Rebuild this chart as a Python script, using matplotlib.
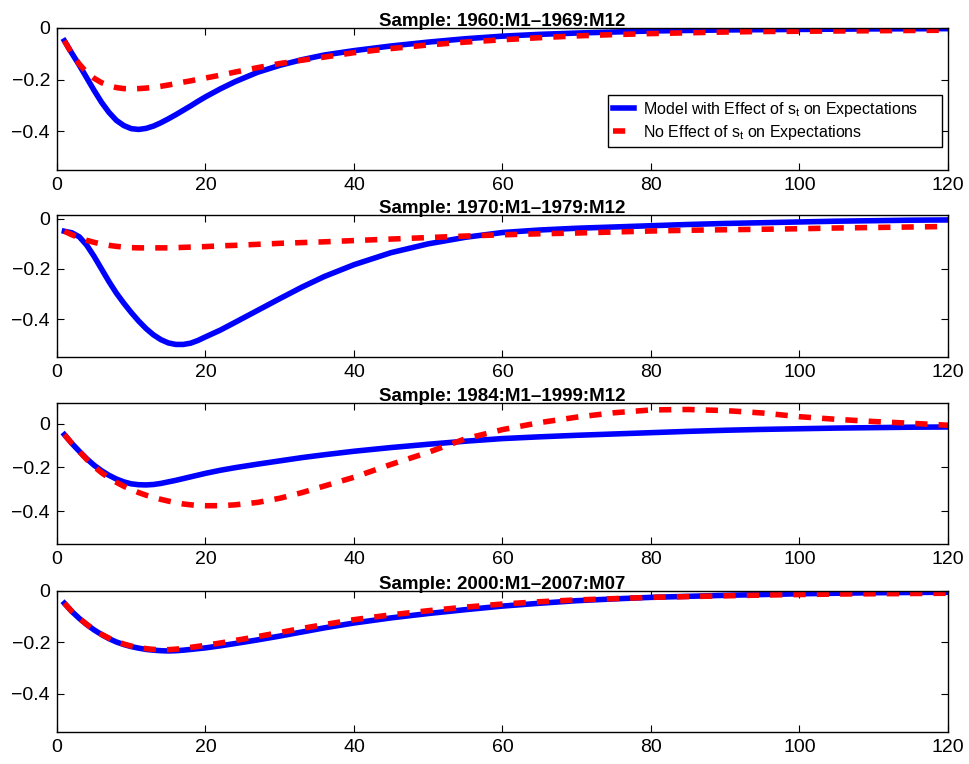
import numpy as np
import matplotlib
matplotlib.use("Agg")
import matplotlib.pyplot as plt

plt.rcParams['font.family'] = ['Liberation Sans', 'DejaVu Sans']
plt.rcParams['mathtext.fontset'] = 'custom'
plt.rcParams['mathtext.rm'] = 'Liberation Sans'
plt.rcParams['mathtext.it'] = 'Liberation Sans'

months = list(range(1, 21)) + [22, 24, 27, 30, 33, 36] + list(range(40, 121, 5))

titles = ["Sample: 1960:M1\u20131969:M12",
          "Sample: 1970:M1\u20131979:M12",
          "Sample: 1984:M1\u20131999:M12",
          "Sample: 2000:M1\u20132007:M07"]

# model with effect of s_t on expectations (blue)
model_60s = [-0.050, -0.098, -0.144, -0.193, -0.242, -0.288, -0.327, -0.358, -0.378, -0.390,
             -0.393, -0.389, -0.380, -0.367, -0.352, -0.336, -0.319, -0.302, -0.284, -0.267,
             -0.236, -0.208, -0.172, -0.145, -0.123, -0.105,
             -0.088, -0.070, -0.055, -0.042, -0.032, -0.025, -0.020, -0.016, -0.012,
             -0.010, -0.008, -0.007, -0.006, -0.005, -0.004, -0.0035, -0.003]
model_70s = [-0.050, -0.056, -0.072, -0.105, -0.150, -0.200, -0.250, -0.296, -0.336, -0.373,
             -0.407, -0.437, -0.462, -0.481, -0.494, -0.500, -0.500, -0.495, -0.484, -0.470,
             -0.443, -0.412, -0.365, -0.318, -0.272, -0.230,
             -0.183, -0.135, -0.100, -0.074, -0.055, -0.045, -0.038, -0.033, -0.028,
             -0.023, -0.019, -0.016, -0.013, -0.010, -0.008, -0.006, -0.005]
model_84 = [-0.050, -0.090, -0.126, -0.160, -0.190, -0.215, -0.236, -0.253, -0.266, -0.275,
            -0.279, -0.280, -0.278, -0.273, -0.266, -0.259, -0.251, -0.243, -0.235, -0.227,
            -0.213, -0.201, -0.185, -0.170, -0.155, -0.142,
            -0.126, -0.109, -0.094, -0.080, -0.068, -0.060, -0.053, -0.047, -0.041,
            -0.035, -0.030, -0.026, -0.023, -0.020, -0.018, -0.016, -0.015]
model_00s = [-0.048, -0.080, -0.107, -0.131, -0.152, -0.170, -0.186, -0.199, -0.209, -0.217,
             -0.223, -0.228, -0.231, -0.233, -0.234, -0.233, -0.231, -0.228, -0.225, -0.222,
             -0.214, -0.205, -0.191, -0.176, -0.160, -0.144,
             -0.125, -0.105, -0.088, -0.073, -0.059, -0.048, -0.038, -0.031, -0.025,
             -0.021, -0.017, -0.014, -0.011, -0.009, -0.007, -0.006, -0.005]

# no effect of s_t on expectations (red dashed)
noeff_60s = [-0.050, -0.100, -0.140, -0.172, -0.195, -0.212, -0.224, -0.231, -0.235, -0.236,
             -0.235, -0.233, -0.230, -0.226, -0.221, -0.216, -0.210, -0.205, -0.199, -0.194,
             -0.183, -0.171, -0.154, -0.138, -0.125, -0.113,
             -0.096, -0.080, -0.066, -0.055, -0.046, -0.038, -0.031, -0.026, -0.022,
             -0.019, -0.016, -0.014, -0.013, -0.012, -0.011, -0.010, -0.009]
noeff_70s = [-0.050, -0.064, -0.076, -0.086, -0.094, -0.101, -0.106, -0.110, -0.113, -0.115,
             -0.116, -0.116, -0.116, -0.116, -0.116, -0.115, -0.114, -0.113, -0.112, -0.111,
             -0.108, -0.106, -0.102, -0.098, -0.095, -0.092,
             -0.087, -0.081, -0.075, -0.069, -0.064, -0.060, -0.057, -0.053, -0.049,
             -0.046, -0.044, -0.042, -0.040, -0.037, -0.035, -0.033, -0.031]
noeff_84 = [-0.050, -0.090, -0.127, -0.163, -0.196, -0.224, -0.248, -0.268, -0.286, -0.301,
            -0.315, -0.327, -0.337, -0.346, -0.354, -0.361, -0.367, -0.371, -0.374, -0.375,
            -0.375, -0.371, -0.360, -0.341, -0.315, -0.285,
            -0.245, -0.186, -0.131, -0.069, -0.027, 0.005, 0.030, 0.050, 0.063,
            0.065, 0.060, 0.049, 0.032, 0.020, 0.010, 0.002, -0.007]
noeff_00s = [-0.048, -0.080, -0.107, -0.130, -0.151, -0.169, -0.184, -0.197, -0.207, -0.215,
             -0.221, -0.225, -0.228, -0.229, -0.229, -0.227, -0.224, -0.220, -0.216, -0.212,
             -0.203, -0.193, -0.178, -0.162, -0.146, -0.131,
             -0.112, -0.093, -0.077, -0.063, -0.051, -0.042, -0.035, -0.030, -0.025,
             -0.022, -0.019, -0.016, -0.014, -0.012, -0.011, -0.010, -0.009]

model = [model_60s, model_70s, model_84, model_00s]
noeff = [noeff_60s, noeff_70s, noeff_84, noeff_00s]
y_tops = [0.0, 0.015, 0.095, 0.0]

fig = plt.figure(figsize=(9.69, 7.64), dpi=100)
bottoms = [0.7775, 0.5327, 0.288, 0.0419]
heights = [0.186, 0.186, 0.1846, 0.1846]

for i in range(4):
    ax = fig.add_axes([0.0588, bottoms[i], 0.9195, heights[i]])
    ax.plot(months, model[i], color=(0, 0, 1), lw=4.0, solid_joinstyle='round',
            label=r"Model with Effect of $s_t$ on Expectations     ")
    ln, = ax.plot(months, noeff[i], color=(1, 0, 0), lw=4.0, dash_capstyle='butt',
                  dash_joinstyle='round', label=r"No Effect of $s_t$ on Expectations")
    ln.set_dashes((2.2, 2.0))
    ax.set_xlim(0, 120)
    ax.set_ylim(-0.55, y_tops[i])
    ax.set_xticks([0, 20, 40, 60, 80, 100, 120])
    ax.set_yticks([-0.4, -0.2, 0])
    ax.set_yticklabels(["\u22120.4", "\u22120.2", "0"])
    ax.tick_params(direction='in', top=True, right=True, length=5, width=0.8,
                   labelsize=14, pad=5)
    for sp in ax.spines.values():
        sp.set_linewidth(1.0)
    ax.set_title(titles[i], fontsize=13.5, fontweight='bold', pad=1.5)
    if i == 0:
        leg = ax.legend(loc='upper right', bbox_to_anchor=(0.993, 0.528), fontsize=11.5,
                        handlelength=1.3, handletextpad=0.6, labelspacing=0.25,
                        borderpad=0.3, borderaxespad=0, fancybox=False, framealpha=1,
                        edgecolor='black')
        leg.get_frame().set_linewidth(1.0)

fig.savefig("out.png", dpi=100)
